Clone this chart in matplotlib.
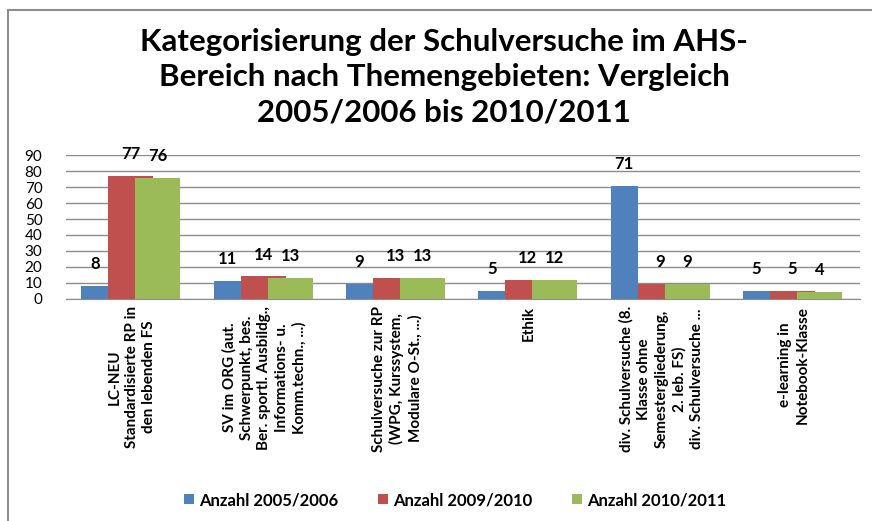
import matplotlib
matplotlib.use("Agg")
import matplotlib.pyplot as plt
from matplotlib.patches import Patch
from matplotlib.lines import Line2D
import numpy as np

plt.rcParams['font.family'] = ['Lato', 'DejaVu Sans']

title = "Kategorisierung der Schulversuche im AHS-\nBereich nach Themengebieten: Vergleich\n2005/2006 bis 2010/2011"

categories = [
    "LC-NEU\nStandardisierte RP in\nden lebenden FS",
    "SV im ORG (aut.\nSchwerpunkt, bes.\nBer. sportl. Ausbildg.,\nInformations- u.\nKomm.techn., ...)",
    "Schulversuche zur RP\n(WPG, Kurssystem,\nModulare O-St., ...)",
    "Ethik",
    "div. Schulversuche (8.\nKlasse ohne\nSemestergliederung,\n2. leb. FS)\ndiv. Schulversuche ...",
    "e-learning in\nNotebook-Klasse",
]
series_names = ["Anzahl 2005/2006", "Anzahl 2009/2010", "Anzahl 2010/2011"]
v2005 = [8, 11, 9, 5, 71, 5]
v2009 = [77, 14, 13, 12, 9, 5]
v2010 = [76, 13, 13, 12, 9, 4]
yticks = [0, 10, 20, 30, 40, 50, 60, 70, 80, 90]

colors = ["#4F81BD", "#C0504D", "#9BBB59"]
widths = [0.205, 0.34, 0.34]
offsets = [0.0, 0.205, 0.41]

W, H = 872, 521
fig = plt.figure(figsize=(W / 100, H / 100), dpi=100)

# border (top and left visible)
fig.add_artist(Line2D([8 / W, 1.0], [1 - 10 / H, 1 - 10 / H], transform=fig.transFigure,
                      color="#8c8c8c", lw=1.5))
fig.add_artist(Line2D([8 / W, 8 / W], [1 - 10 / H, 0.0], transform=fig.transFigure,
                      color="#8c8c8c", lw=1.5))

ax = fig.add_axes([66 / W, 1 - 298.7 / H, (860 - 66) / W, (298.7 - 155.3) / H])

x = np.arange(len(categories))
group_start = x - 0.5 + 0.115
for k, (vals, c, w, off) in enumerate(zip([v2005, v2009, v2010], colors, widths, offsets)):
    bars = ax.bar(group_start + off, vals, width=w, align="edge", color=c, zorder=3 + k * 0.1)
    for b, v in zip(bars, vals):
        ax.annotate(str(v), (b.get_x() + b.get_width() / 2, v), xytext=(0, 10),
                    textcoords="offset points", ha="center", va="bottom",
                    fontsize=12, fontweight="bold", color="black", zorder=5)

ax.set_xlim(-0.5, len(categories) - 0.5)
ax.set_ylim(0, 90)
ax.set_yticks(yticks)
ax.set_yticklabels([str(t) for t in yticks], fontsize=11)
ax.yaxis.grid(True, color="#8c8c8c", lw=1.0, zorder=0)
ax.set_axisbelow(True)
ax.tick_params(axis="x", length=0, pad=5)
ax.tick_params(axis="y", length=0, pad=17)
for s in ["top", "right", "left"]:
    ax.spines[s].set_visible(False)
ax.spines["bottom"].set_color("#8c8c8c")
ax.set_xticks(x)
ax.set_xticklabels(categories, rotation=90, fontsize=11, fontweight="bold",
                   multialignment="center", va="top", ha="center", linespacing=1.3)

fig.text(444 / W, 1 - 28 / H, title, ha="center", va="top", fontsize=22.5,
         fontweight="bold", linespacing=1.32)

handles = [Patch(facecolor=c, edgecolor="none") for c in colors]
fig.legend(handles, series_names, loc="center", bbox_to_anchor=(455 / W, 1 - 500 / H),
           ncol=3, frameon=False, handlelength=0.6, handleheight=0.6, handletextpad=0.3,
           columnspacing=2.4, prop={"weight": "bold", "size": 12})

fig.savefig("out.png", dpi=100)
